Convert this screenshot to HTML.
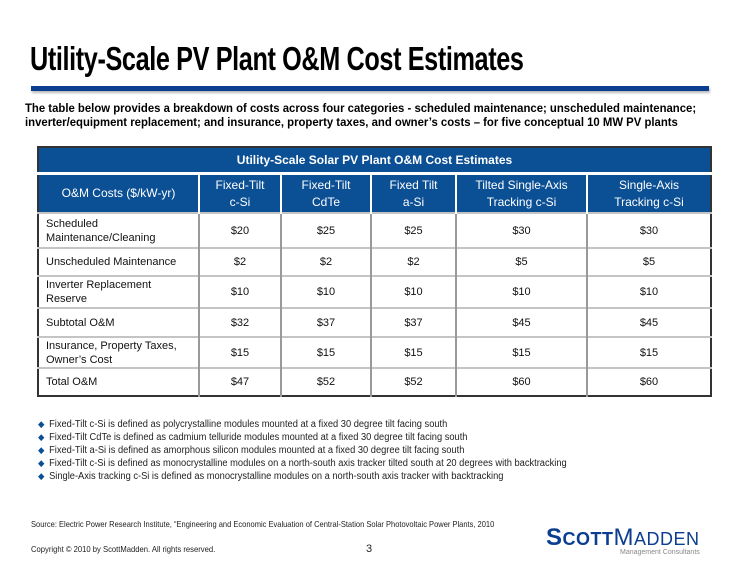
<!DOCTYPE html>
<html><head><meta charset="utf-8"><style>
body{margin:0;width:740px;height:572px;background:#fff;position:relative;overflow:hidden;font-family:"Liberation Sans",Arial,sans-serif;}
.abs{position:absolute;}
#title{left:30px;top:40px;font-size:33px;font-weight:bold;letter-spacing:-0.5px;transform:scaleX(0.765);transform-origin:left top;white-space:nowrap;color:#000;}
#rule{left:31px;top:86px;width:678px;height:5px;background:#0b3d91;box-shadow:1px 2px 2px #bbb;}
#intro{left:25px;top:101px;width:720px;font-size:12px;font-weight:bold;line-height:14px;transform:scaleX(0.945);transform-origin:left top;white-space:nowrap;color:#000;}
table{position:absolute;left:37px;top:146px;width:675px;border-collapse:collapse;border:2px solid #333;font-size:11px;}
td,th{padding:0;}
.cap{background:#0b4f94;color:#fff;font-weight:bold;height:24px;text-align:center;font-size:12px;border-bottom:3px solid #fff;}
.hd th{background:#0b4f94;color:#fff;font-weight:normal;height:37px;text-align:center;border-left:2px solid #fff;line-height:17px;font-size:12px;}
.hd th:first-child{border-left:none;}
.r td{border-top:2px solid #c4c4c4;border-left:2px solid #999;text-align:center;color:#111;line-height:14px;}
.r td:first-child{border-left:none;text-align:left;padding-left:7px;}
ul{position:absolute;left:38px;top:418px;margin:0;padding:0;list-style:none;font-size:10px;line-height:13px;color:#222;transform:scaleX(0.93);transform-origin:left top;white-space:nowrap;}
li:before{content:"\25C6";color:#0b4f94;font-size:9px;margin-right:5px;}
</style></head><body>
<div id="title" class="abs">Utility-Scale PV Plant O&amp;M Cost Estimates</div>
<div id="rule" class="abs"></div>
<div id="intro" class="abs">The table below provides a breakdown of costs across four categories - scheduled maintenance; unscheduled maintenance;<br>inverter/equipment replacement; and insurance, property taxes, and owner’s costs – for five conceptual 10 MW PV plants</div>
<table>
<colgroup><col style="width:161px"><col style="width:82px"><col style="width:90px"><col style="width:85px"><col style="width:131px"><col></colgroup>
<tr><td colspan="6" class="cap">Utility-Scale Solar PV Plant O&amp;M Cost Estimates</td></tr>
<tr class="hd"><th>O&amp;M Costs ($/kW-yr)</th><th>Fixed-Tilt<br>c-Si</th><th>Fixed-Tilt<br>CdTe</th><th>Fixed Tilt<br>a-Si</th><th>Tilted Single-Axis<br>Tracking c-Si</th><th>Single-Axis<br>Tracking c-Si</th></tr>
<tr class="r" style="height:35px"><td>Scheduled<br>Maintenance/Cleaning</td><td>$20</td><td>$25</td><td>$25</td><td>$30</td><td>$30</td></tr>
<tr class="r" style="height:28px"><td>Unscheduled Maintenance</td><td>$2</td><td>$2</td><td>$2</td><td>$5</td><td>$5</td></tr>
<tr class="r" style="height:32px"><td>Inverter Replacement<br>Reserve</td><td>$10</td><td>$10</td><td>$10</td><td>$10</td><td>$10</td></tr>
<tr class="r" style="height:29px"><td>Subtotal O&amp;M</td><td>$32</td><td>$37</td><td>$37</td><td>$45</td><td>$45</td></tr>
<tr class="r" style="height:31px"><td>Insurance, Property Taxes,<br>Owner’s Cost</td><td>$15</td><td>$15</td><td>$15</td><td>$15</td><td>$15</td></tr>
<tr class="r" style="height:28px"><td>Total O&amp;M</td><td>$47</td><td>$52</td><td>$52</td><td>$60</td><td>$60</td></tr>
</table>
<ul>
<li>Fixed-Tilt c-Si is defined as polycrystalline modules mounted at a fixed 30 degree tilt facing south</li>
<li>Fixed-Tilt CdTe is defined as cadmium telluride modules mounted at a fixed 30 degree tilt facing south</li>
<li>Fixed-Tilt a-Si is defined as amorphous silicon modules mounted at a fixed 30 degree tilt facing south</li>
<li>Fixed-Tilt c-Si is defined as monocrystalline modules on a north-south axis tracker tilted south at 20 degrees with backtracking</li>
<li>Single-Axis tracking c-Si is defined as monocrystalline modules on a north-south axis tracker with backtracking</li>
</ul>
<div class="abs" style="left:31px;top:519px;font-size:8.5px;color:#222;white-space:nowrap;transform:scaleX(0.885);transform-origin:left top">Source: Electric Power Research Institute, “Engineering and Economic Evaluation of Central-Station Solar Photovoltaic Power Plants, 2010</div>
<div class="abs" style="left:31px;top:544px;font-size:8.5px;color:#222;white-space:nowrap;transform:scaleX(0.9);transform-origin:left top">Copyright © 2010 by ScottMadden.  All rights reserved.</div>
<div class="abs" style="left:366px;top:543px;font-size:11px;color:#222">3</div>
<div class="abs" style="left:546px;top:524px;font-size:24px;color:#0b3d91;white-space:nowrap;font-weight:bold;letter-spacing:0.5px">S<span style="font-size:18px">COTT</span><span style="font-weight:normal">M<span style="font-size:18px">ADDEN</span></span></div>
<div class="abs" style="left:620px;top:549px;font-size:7px;color:#888">Management Consultants</div>
</body></html>
